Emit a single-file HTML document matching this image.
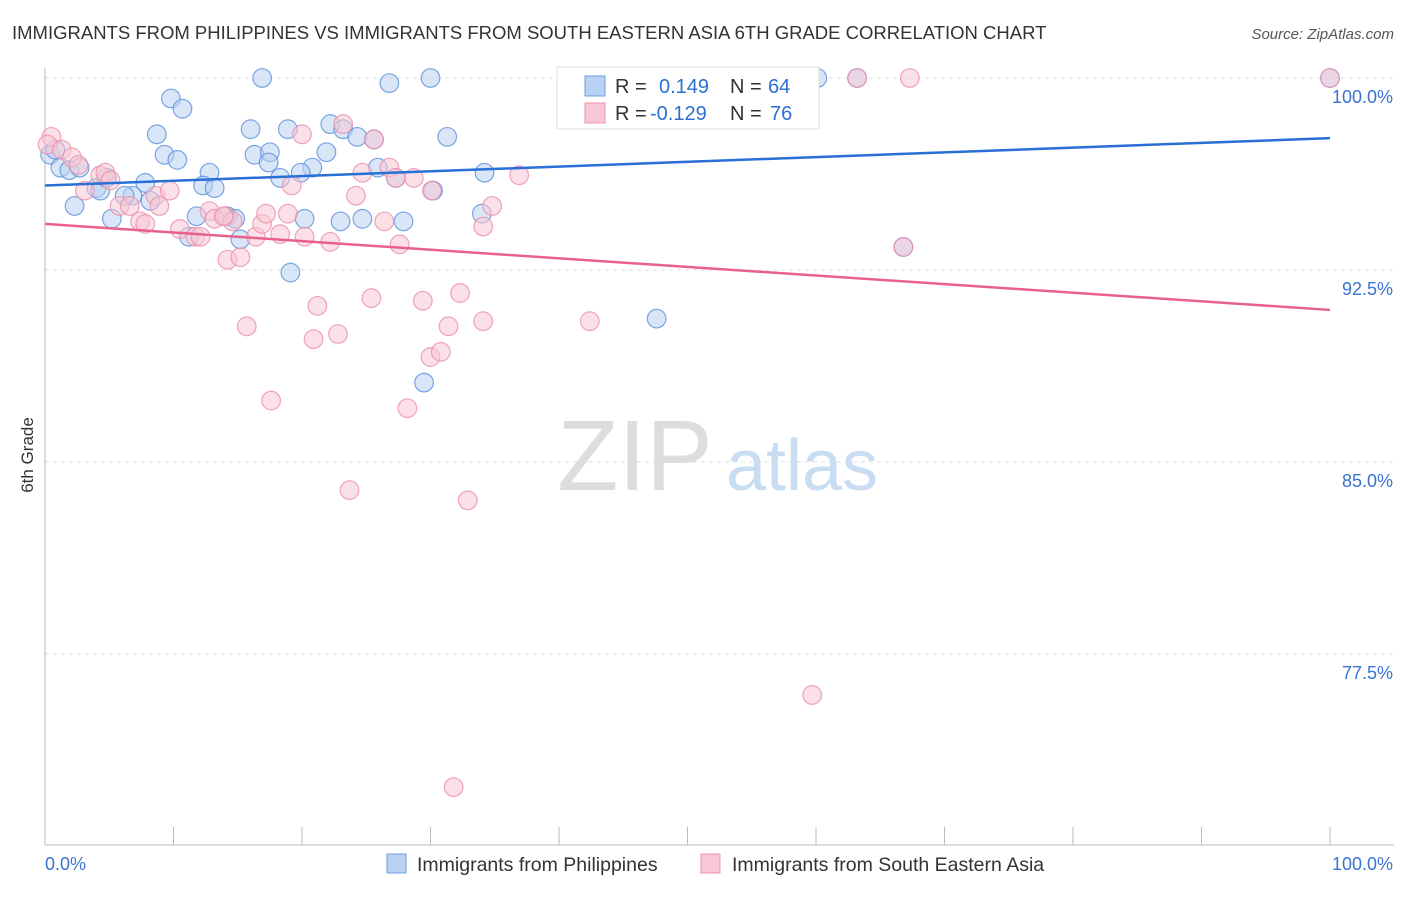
<!DOCTYPE html>
<html><head><meta charset="utf-8"><style>
body{margin:0;background:#fff;font-family:"Liberation Sans",sans-serif;}
svg text{font-family:"Liberation Sans",sans-serif;}
</style></head><body>
<svg id="chart" width="1406" height="892" xmlns="http://www.w3.org/2000/svg">
<text x="12" y="39" font-size="18.5" fill="#333">IMMIGRANTS FROM PHILIPPINES VS IMMIGRANTS FROM SOUTH EASTERN ASIA 6TH GRADE CORRELATION CHART</text>
<text x="1394" y="39" font-size="15" fill="#555" text-anchor="end" font-style="italic">Source: ZipAtlas.com</text>
<text transform="translate(33,455) rotate(-90)" font-size="17" fill="#333" text-anchor="middle">6th Grade</text>
<g><text x="635" y="490" font-size="100" fill="#ddd" text-anchor="middle" font-family="Liberation Serif">ZIP</text><text x="802" y="490" font-size="72" fill="#c8dcf2" text-anchor="middle">atlas</text></g>
<g id="grid"></g><g id="axes"></g><g id="marks"></g><g id="trends"></g>
<g>
<rect x="557" y="67" width="262" height="62" fill="#fff" stroke="#ddd"/>
<rect x="585" y="76" width="20" height="20" fill="#b9d1f3" stroke="#6d9de0"/>
<text x="615" y="93" font-size="20" fill="#333">R =</text><text x="659" y="93" font-size="20" fill="#2d6fd2">0.149</text>
<text x="730" y="93" font-size="20" fill="#333">N =</text><text x="768" y="93" font-size="20" fill="#2d6fd2">64</text>
<rect x="585" y="103" width="20" height="20" fill="#f8c6d4" stroke="#ec94ae"/>
<text x="615" y="120" font-size="20" fill="#333">R =</text><text x="650" y="120" font-size="20" fill="#2d6fd2">-0.129</text>
<text x="730" y="120" font-size="20" fill="#333">N =</text><text x="770" y="120" font-size="20" fill="#2d6fd2">76</text>
</g>
<g>
<rect x="387" y="854" width="19" height="19" fill="#b9d1f3" stroke="#6d9de0"/>
<text x="417" y="871" font-size="19.5" fill="#333">Immigrants from Philippines</text>
<rect x="701" y="854" width="19" height="19" fill="#f8c6d4" stroke="#ec94ae"/>
<text x="732" y="871" font-size="19.5" fill="#333">Immigrants from South Eastern Asia</text>
</g>
</svg>
<script>
const yTicks=[100,92.5,85,77.5];
const yTickLabels=["100.0%","92.5%","85.0%","77.5%"];
const blueX=[16.9,26.8,30.0,60.1,63.2,100,9.8,10.7,8.7,16.0,18.9,22.2,23.2,24.3,25.6,31.3,9.3,10.3,16.3,17.5,17.4,20.8,21.9,19.9,25.9,27.3,30.2,34.2,12.8,18.3,0.4,0.8,1.2,1.9,2.7,4.0,4.3,7.8,6.8,6.2,8.2,5.2,2.3,11.8,12.3,13.2,14.2,14.8,20.2,23.0,24.7,27.9,34.0,11.2,15.2,19.1,47.6,29.5,66.8,4.8];
const blueY=[100,99.8,100,100,100,100,99.2,98.8,97.8,98.0,98.0,98.2,98.0,97.7,97.6,97.7,97.0,96.8,97.0,97.1,96.7,96.5,97.1,96.3,96.5,96.1,95.6,96.3,96.3,96.1,97.0,97.2,96.5,96.4,96.5,95.7,95.6,95.9,95.4,95.4,95.2,94.5,95.0,94.6,95.8,95.7,94.6,94.5,94.5,94.4,94.5,94.4,94.7,93.8,93.7,92.4,90.6,88.1,93.4,96.1];
const pinkX=[0.5,0.2,1.3,2.1,2.6,3.1,4.3,4.7,5.1,5.8,6.6,7.4,7.8,8.6,8.9,9.7,10.5,11.7,12.1,12.8,13.2,14.0,14.2,14.6,15.2,15.7,16.4,16.9,17.2,17.6,18.3,18.9,19.2,20.0,20.2,21.2,20.9,22.2,22.8,23.2,23.7,24.2,24.7,25.4,26.4,26.8,27.6,28.2,28.7,29.4,30.0,30.8,31.4,32.3,32.9,34.1,34.1,34.8,36.9,30.1,27.3,25.6,13.9,31.8,59.7,67.3,63.2,100,66.8,42.4];
const pinkY=[97.7,97.4,97.2,96.9,96.6,95.6,96.2,96.3,96.0,95.0,95.0,94.4,94.3,95.4,95.0,95.6,94.1,93.8,93.8,94.8,94.5,94.6,92.9,94.4,93.0,90.3,93.8,94.3,94.7,87.4,93.9,94.7,95.8,97.8,93.8,91.1,89.8,93.6,90.0,98.2,83.9,95.4,96.3,91.4,94.4,96.5,93.5,87.1,96.1,91.3,89.1,89.3,90.3,91.6,83.5,94.2,90.5,95.0,96.2,95.6,96.1,97.6,94.6,72.3,75.9,100,100,100,93.4,90.5];
const blueTrend=[95.8,97.65];
const pinkTrend=[94.3,90.94];
const NS="http://www.w3.org/2000/svg";
function xs(v){return 45+v*12.85;}
function ys(v){return 78+(100-v)*25.6;}
function mk(t,a,p){const e=document.createElementNS(NS,t);for(const k in a)e.setAttribute(k,a[k]);p.appendChild(e);return e;}
const grid=document.getElementById('grid'),axes=document.getElementById('axes'),marks=document.getElementById('marks'),trends=document.getElementById('trends');
yTicks.forEach((t,i)=>{
  const l=mk('line',{x1:45,x2:1394,y1:ys(t),y2:ys(t),stroke:'#ddd','stroke-dasharray':'4,4'},grid);
  
  
  const tx=mk('text',{x:1393,y:ys(t)+25,'font-size':18,fill:'#3a73d0','text-anchor':'end'},axes);
  tx.textContent=yTickLabels[i];
  
  
});
const ya=mk('line',{x1:45,x2:45,y1:68,y2:845,stroke:'#bbb'},axes);


const xa=mk('line',{x1:45,x2:1394,y1:845,y2:845,stroke:'#bbb'},axes);


for(let i=0;i<=10;i++){const t=mk('line',{x1:xs(i*10),x2:xs(i*10),y1:827,y2:845,stroke:'#bbb'},axes);

}
const xl0=mk('text',{x:45,y:870,'font-size':18,fill:'#3a73d0'},axes);xl0.textContent='0.0%';


const xl1=mk('text',{x:1393,y:870,'font-size':18,fill:'#3a73d0','text-anchor':'end'},axes);xl1.textContent='100.0%';


function dots(X,Y,fill,stroke,name){X.forEach((x,i)=>{const c=mk('circle',{cx:xs(x),cy:ys(Y[i]),r:9.3,fill:fill,'fill-opacity':0.55,stroke:stroke,'stroke-opacity':0.8,'stroke-width':1.2},marks);

});}
dots(blueX,blueY,'#b9d1f3','#5b90dc','philippines-point');
dots(pinkX,pinkY,'#f8c6d4','#ea8fab','se-asia-point');
const bt=mk('line',{x1:xs(0),x2:xs(100),y1:ys(blueTrend[0]),y2:ys(blueTrend[1]),stroke:'#2a6fd6','stroke-width':2.5},trends);


const pt=mk('line',{x1:xs(0),x2:xs(100),y1:ys(pinkTrend[0]),y2:ys(pinkTrend[1]),stroke:'#e8608c','stroke-width':2.5},trends);


</script>
</body></html>
